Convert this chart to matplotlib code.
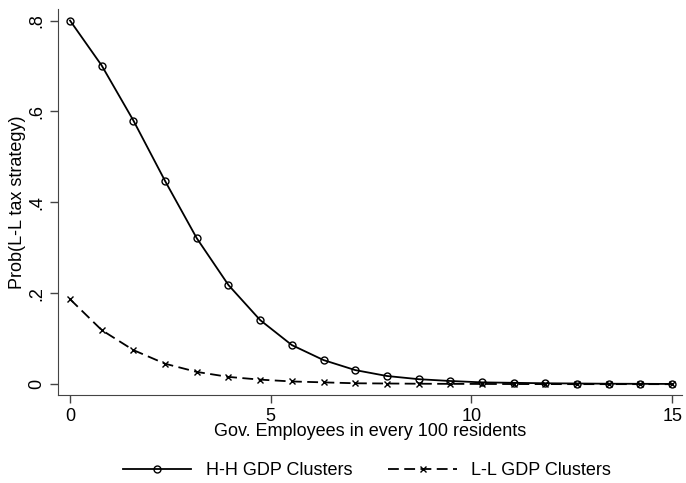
import numpy as np
import matplotlib
matplotlib.use("Agg")
import matplotlib.pyplot as plt

plt.rcParams['font.family'] = ['Liberation Sans', 'DejaVu Sans']

# values (20 evenly spaced points from 0 to 15)
gov_emp = np.linspace(0, 15, 20)
hh_prob = [0.800, 0.701, 0.580, 0.447, 0.321, 0.218, 0.141, 0.086, 0.053, 0.031,
           0.018, 0.011, 0.007, 0.004, 0.003, 0.002, 0.0015, 0.001, 0.0008, 0.0005]
ll_prob = [0.187, 0.119, 0.075, 0.045, 0.027, 0.016, 0.010, 0.006, 0.004, 0.002,
           0.0015, 0.001, 0.0007, 0.0005, 0.0003, 0.0002, 0.0001, 0.0001, 0.0001, 0.0]

fig = plt.figure(figsize=(6.86, 4.83), dpi=100)
ax = fig.add_axes([0.0845, 0.182, 0.91, 0.80])

ax.plot(gov_emp, hh_prob, color='black', lw=1.3, marker='o', ms=5,
        mfc='none', mec='black', mew=1.0, label='H-H GDP Clusters')
ax.plot(gov_emp, ll_prob, color='black', lw=1.3, ls=(0, (6, 3)), marker='x', ms=4.5,
        mew=1.0, label='L-L GDP Clusters')

ax.set_xlim(-0.3, 15.25)
ax.set_ylim(-0.024, 0.826)
ax.set_xticks([0, 5, 10, 15])
ax.set_yticks([0, 0.2, 0.4, 0.6, 0.8])
ax.set_yticklabels(['0', '.2', '.4', '.6', '.8'], rotation=90, va='center')
ax.tick_params(labelsize=13, length=6, width=1, color='#444444', pad=3)
for s in ['top', 'right']:
    ax.spines[s].set_visible(False)
for s in ['left', 'bottom']:
    ax.spines[s].set_color('#444444')

ax.set_xlabel('Gov. Employees in every 100 residents', fontsize=13, labelpad=-1)
ax.set_ylabel('Prob(L-L tax strategy)', fontsize=13, labelpad=2)

fig.legend(loc='lower center', bbox_to_anchor=(0.535, -0.025), ncol=2, frameon=False,
           fontsize=13, handlelength=3.8, columnspacing=2.0)

fig.savefig('out.png', dpi=100)
